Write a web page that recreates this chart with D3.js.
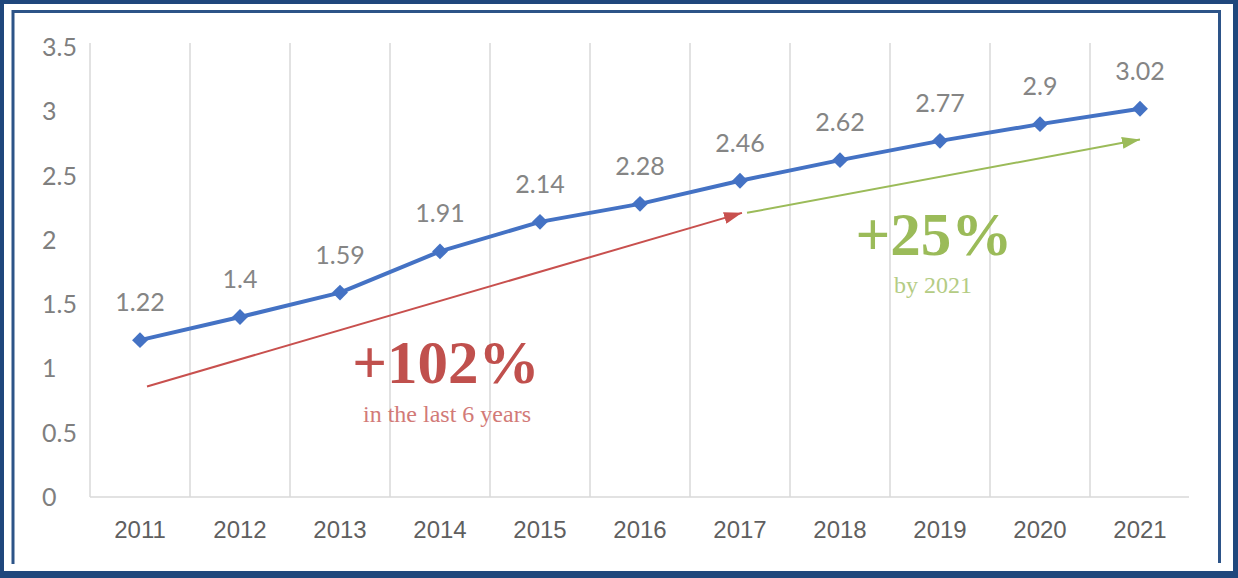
<!DOCTYPE html>
<html>
<head>
<meta charset="utf-8">
<script src="https://cdn.jsdelivr.net/npm/d3@7"></script>
<style>
  html, body { margin: 0; padding: 0; background: #fff; }
  svg { display: block; }
</style>
</head>
<body>
<svg id="chart" width="1238" height="578"></svg>
<script>
// ---- data ----
const years = ["2011","2012","2013","2014","2015","2016","2017","2018","2019","2020","2021"];
const values = [1.22, 1.4, 1.59, 1.91, 2.14, 2.28, 2.46, 2.62, 2.77, 2.9, 3.02];
const yTicks = [0, 0.5, 1, 1.5, 2, 2.5, 3, 3.5];
const yTickLabels = ["0", "0.5", "1", "1.5", "2", "2.5", "3", "3.5"];
// annotation arrows in data units: [year index, value]
const redArrow = [[0.07, 0.86], [6.02, 2.21]];
const greenArrow = [[6.07, 2.21], [10.0, 2.78]];
const redTitle = "+102%";
const redSub = "in the last 6 years";
const greenTitle = "+25%";
const greenSub = "by 2021";

const svg = d3.select("#chart");
const W = 1238, H = 578;
const navy = "#1f477c";

// ---- frame ----
svg.append("rect").attr("x", 0).attr("y", 0).attr("width", W).attr("height", H).attr("fill", navy);
svg.append("rect").attr("x", 4).attr("y", 4).attr("width", 1229).attr("height", 567).attr("fill", "#fff");
svg.append("path")
  .attr("d", "M13,564 V11.5 H1219.5 V563")
  .attr("fill", "none").attr("stroke", "#2d5488").attr("stroke-width", 3);

// ---- scales ----
const x = d3.scaleBand().domain(years).range([90, 1190]).paddingInner(0).paddingOuter(0);
const y = d3.scaleLinear().domain([0, 3.5]).range([497, 47]);
const cx = d => x(d) + x.bandwidth() / 2;
const ax = d3.scaleLinear().domain([0, years.length - 1]).range([cx(years[0]), cx(years[years.length - 1])]);

// ---- gridlines ----
const g = svg.append("g");
g.selectAll("line.vg").data(years).enter().append("line")
  .attr("class", "vg")
  .attr("x1", d => x(d)).attr("x2", d => x(d))
  .attr("y1", y(3.5) - 4).attr("y2", y(0))
  .attr("stroke", "#d9d9d9").attr("stroke-width", 1.5);
g.append("line")
  .attr("x1", 90).attr("x2", 1189)
  .attr("y1", y(0)).attr("y2", y(0))
  .attr("stroke", "#d9d9d9").attr("stroke-width", 1.5);

// ---- y axis labels ----
svg.append("g").selectAll("text").data(yTicks).enter().append("text")
  .attr("x", 42).attr("y", d => y(d) + 9)
  .attr("text-anchor", "start")
  .attr("font-family", "Lato, 'Open Sans', sans-serif")
  .attr("font-size", 25)
  .attr("fill", "#7f7f7f")
  .text((d, i) => yTickLabels[i]);

// ---- x axis labels ----
svg.append("g").selectAll("text").data(years).enter().append("text")
  .attr("x", d => cx(d)).attr("y", 538)
  .attr("text-anchor", "middle")
  .attr("font-family", "'Liberation Sans Narrow', 'Arial Narrow', 'Liberation Sans', sans-serif")
  .attr("font-size", 24)
  .attr("fill", "#5f5f5f")
  .text(d => d);

// ---- arrows ----
const defs = svg.append("defs");
function marker(id, color) {
  defs.append("marker").attr("id", id)
    .attr("markerUnits", "userSpaceOnUse")
    .attr("viewBox", "0 0 18 12").attr("refX", 18).attr("refY", 6)
    .attr("markerWidth", 18).attr("markerHeight", 12)
    .attr("orient", "auto")
    .append("path").attr("d", "M0,0 L18,6 L0,12 Z").attr("fill", color);
}
marker("ar-red", "#c8504e");
marker("ar-green", "#9bbb59");
const line2 = d3.line().x(d => ax(d[0])).y(d => y(d[1]));
svg.append("path").attr("d", line2(redArrow))
  .attr("fill", "none").attr("stroke", "#c8504e").attr("stroke-width", 2)
  .attr("marker-end", "url(#ar-red)");
svg.append("path").attr("d", line2(greenArrow))
  .attr("fill", "none").attr("stroke", "#9bbb59").attr("stroke-width", 2)
  .attr("marker-end", "url(#ar-green)");

// ---- series line ----
const line = d3.line().x((d, i) => cx(years[i])).y(d => y(d));
svg.append("path").datum(values).attr("d", line)
  .attr("fill", "none").attr("stroke", "#4472c4").attr("stroke-width", 4)
  .attr("stroke-linejoin", "round");
svg.append("g").selectAll("path").data(values).enter().append("path")
  .attr("d", d3.symbol().type(d3.symbolDiamond2).size(160))
  .attr("transform", (d, i) => `translate(${cx(years[i])},${y(d)})`)
  .attr("fill", "#4472c4");

// ---- data labels ----
svg.append("g").selectAll("text").data(values).enter().append("text")
  .attr("x", (d, i) => cx(years[i])).attr("y", d => y(d) - 29)
  .attr("text-anchor", "middle")
  .attr("font-family", "Lato, 'Open Sans', sans-serif")
  .attr("font-size", 25)
  .attr("fill", "#858585")
  .text(d => String(d));

// ---- annotation texts ----
const serif = "'Liberation Serif', 'Times New Roman', serif";
svg.append("text").attr("x", ax(3.06)).attr("y", 383)
  .attr("text-anchor", "middle").attr("font-family", serif).attr("font-weight", "bold")
  .attr("font-size", 61).attr("fill", "#c0504d").text(redTitle);
svg.append("text").attr("x", ax(3.07)).attr("y", 422)
  .attr("text-anchor", "middle").attr("font-family", serif)
  .attr("font-size", 24).attr("fill", "#d27a77").text(redSub);
svg.append("text").attr("x", ax(7.94)).attr("y", 255)
  .attr("text-anchor", "middle").attr("font-family", serif).attr("font-weight", "bold")
  .attr("font-size", 61).attr("fill", "#9bbb59").text(greenTitle);
svg.append("text").attr("x", ax(7.93)).attr("y", 293)
  .attr("text-anchor", "middle").attr("font-family", serif)
  .attr("font-size", 24).attr("fill", "#b4cc84").text(greenSub);
</script>
</body>
</html>
